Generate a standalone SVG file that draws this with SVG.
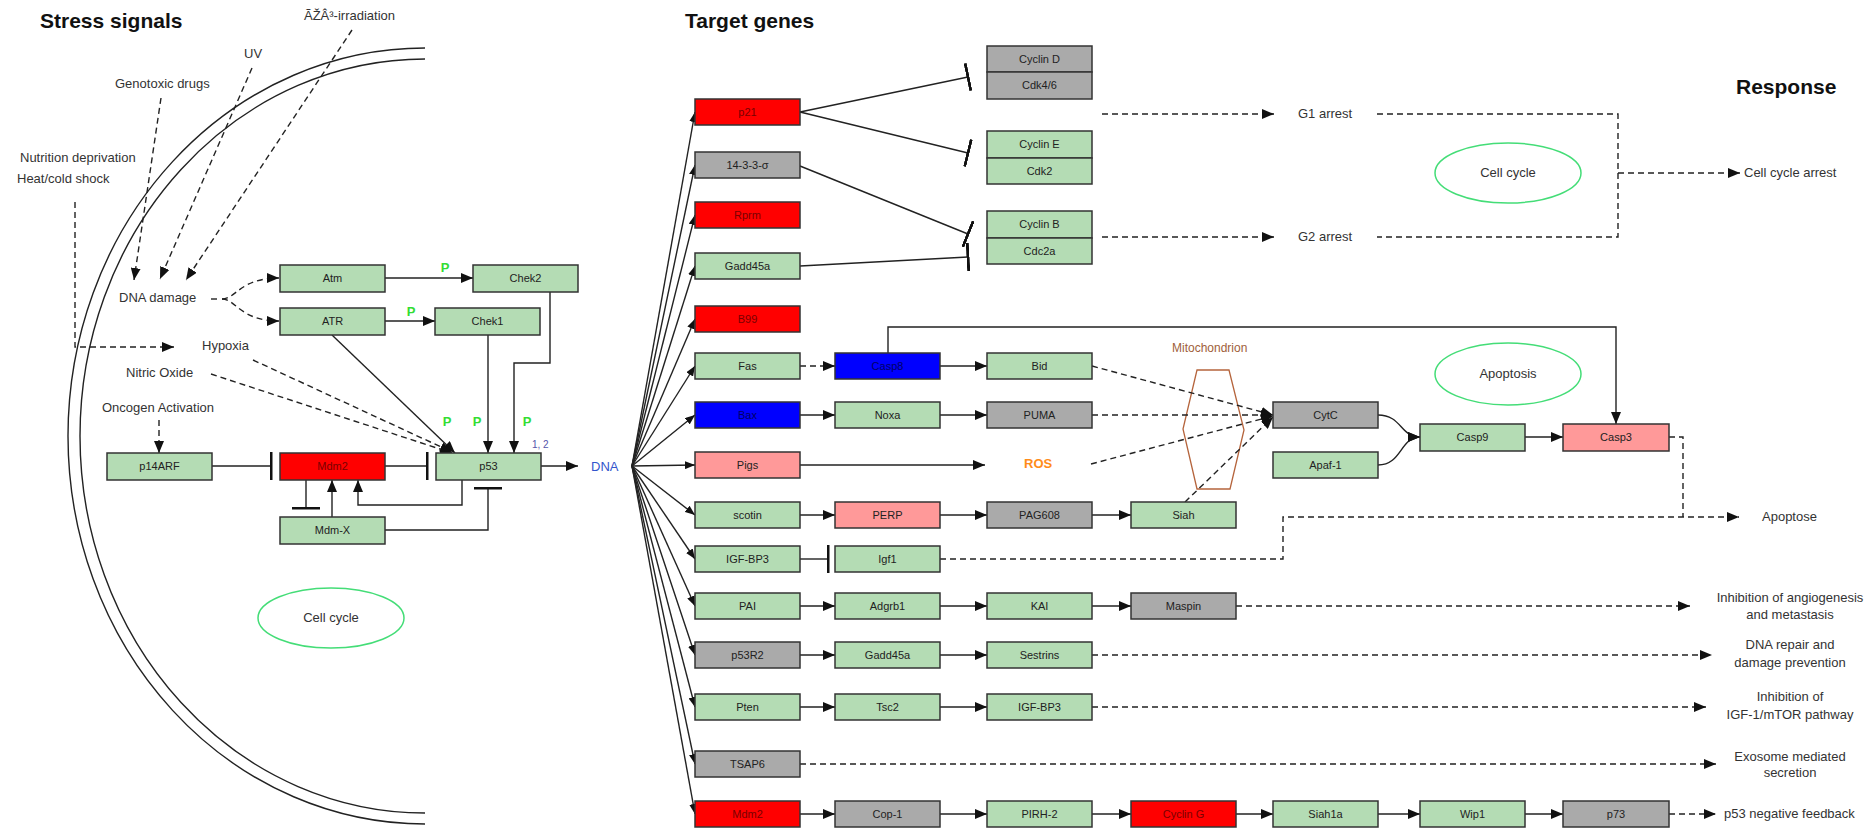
<svg xmlns="http://www.w3.org/2000/svg" width="1872" height="836" viewBox="0 0 1872 836">
<style>
text{font-family:"Liberation Sans",Arial,sans-serif}
.box{stroke:#333;stroke-width:1.5}
.g{fill:#b4dcb4}.r{fill:#ff0000}.gr{fill:#aaaaaa}.pk{fill:#ff9999}.bl{fill:#0000ff}
.bt{font-size:11px;text-anchor:middle;fill:#222}
.br{fill:#7a0000}.bb{fill:#000066}
.t{font-size:13px;fill:#333}
.tc{font-size:13px;fill:#333;text-anchor:middle}
.h{font-size:21px;font-weight:bold;fill:#111}
.p{font-size:13px;font-weight:bold;fill:#33dd33;text-anchor:middle}
.ell{fill:none;stroke:#44dd77;stroke-width:1.5}
.ln{fill:none;stroke:#222;stroke-width:1.4}
.d{stroke-dasharray:6 4}
.mem{fill:none;stroke:#222;stroke-width:1.4}
</style>
<defs>
<marker id="a" viewBox="0 0 12 10" refX="12" refY="5" markerWidth="12" markerHeight="10" orient="auto" markerUnits="userSpaceOnUse"><path d="M0,0L12,5L0,10z" fill="#111"/></marker>
<marker id="as" viewBox="0 0 10 8" refX="10" refY="4" markerWidth="10" markerHeight="8" orient="auto" markerUnits="userSpaceOnUse"><path d="M0,0L10,4L0,8z" fill="#111"/></marker>
<marker id="t" viewBox="0 0 3 28" refX="1.5" refY="14" markerWidth="3" markerHeight="28" orient="auto" markerUnits="userSpaceOnUse"><rect width="3" height="28" fill="#111"/></marker>
</defs>
<rect width="1872" height="836" fill="#fff"/>

<g id="membrane">
<path class="mem" d="M425,48 A357,388 0 0 0 425,824"/>
<path class="mem" d="M425,59 A345,377 0 0 0 425,813"/>
</g>

<g id="titles">
<text class="h" x="40" y="28">Stress signals</text>
<text class="h" x="685" y="28">Target genes</text>
<text class="h" x="1736" y="94">Response</text>
</g>

<g id="labels">
<text class="t" x="304" y="20">ÃŽÂ³-irradiation</text>
<text class="t" x="244" y="58">UV</text>
<text class="t" x="115" y="88">Genotoxic drugs</text>
<text class="t" x="20" y="162">Nutrition deprivation</text>
<text class="t" x="17" y="183">Heat/cold shock</text>
<text class="t" x="119" y="302">DNA damage</text>
<text class="t" x="202" y="350">Hypoxia</text>
<text class="t" x="126" y="377">Nitric Oxide</text>
<text class="t" x="102" y="412">Oncogen Activation</text>
<text x="591" y="471" style="font-size:13px;fill:#3355cc">DNA</text>
<text x="532" y="448" style="font-size:10px;fill:#5555aa">1, 2</text>
<text class="p" x="445" y="272">P</text>
<text class="p" x="411" y="316">P</text>
<text class="p" x="447" y="426">P</text>
<text class="p" x="477" y="426">P</text>
<text class="p" x="527" y="426">P</text>
<text class="t" x="1298" y="118">G1 arrest</text>
<text class="t" x="1298" y="241">G2 arrest</text>
<text class="t" x="1744" y="177">Cell cycle arrest</text>
<text x="1172" y="352" style="font-size:12px;fill:#a0603a">Mitochondrion</text>
<text x="1024" y="468" style="font-size:13px;font-weight:bold;fill:#ff8c1a">ROS</text>
<text class="t" x="1762" y="521">Apoptose</text>
<text class="tc" x="1790" y="602">Inhibition of angiogenesis</text>
<text class="tc" x="1790" y="619">and metastasis</text>
<text class="tc" x="1790" y="649">DNA repair and</text>
<text class="tc" x="1790" y="667">damage prevention</text>
<text class="tc" x="1790" y="701">Inhibition of</text>
<text class="tc" x="1790" y="719">IGF-1/mTOR pathway</text>
<text class="tc" x="1790" y="761">Exosome mediated</text>
<text class="tc" x="1790" y="777">secretion</text>
<text class="t" x="1724" y="818">p53 negative feedback</text>
</g>

<g id="cellcycle1"><ellipse class="ell" cx="331" cy="618" rx="73" ry="30"/><text class="tc" x="331" y="622">Cell cycle</text></g>
<g id="cellcycle2"><ellipse class="ell" cx="1508" cy="173" rx="73" ry="30"/><text class="tc" x="1508" y="177">Cell cycle</text></g>
<g id="apoptosis"><ellipse class="ell" cx="1508" cy="374" rx="73" ry="31"/><text class="tc" x="1508" y="378">Apoptosis</text></g>
<g id="mitochondrion"><polygon points="1197,370 1229,370 1244,430 1230,489 1197,489 1183,429" fill="none" stroke="#b5643c" stroke-width="1.3"/></g>

<g id="connectors">
<!-- stress signals -->
<path class="ln d" d="M161,98 L134,280" marker-end="url(#a)"/>
<path class="ln d" d="M252,68 L160,279" marker-end="url(#a)"/>
<path class="ln d" d="M352,30 L186,280" marker-end="url(#a)"/>
<path class="ln d" d="M75,202 V347 H174" marker-end="url(#a)"/>
<path class="ln d" d="M211,299 H217"/>
<path class="ln d" d="M222,299 C236,299 240,278 279,278" marker-end="url(#a)"/>
<path class="ln d" d="M222,299 C236,299 240,321 279,321" marker-end="url(#a)"/>
<path class="ln" d="M385,278 H473" marker-end="url(#a)"/>
<path class="ln" d="M385,321 H435" marker-end="url(#a)"/>
<path class="ln" d="M332,335 L455,453" marker-end="url(#a)"/>
<path class="ln" d="M488,335 V453" marker-end="url(#a)"/>
<path class="ln" d="M550,292 V363 H514 V453" marker-end="url(#a)"/>
<path class="ln d" d="M253,360 L452,452" marker-end="url(#a)"/>
<path class="ln d" d="M211,374 L452,453" marker-end="url(#a)"/>
<path class="ln d" d="M159,420 V453" marker-end="url(#a)"/>
<path class="ln" d="M212,466 H271" marker-end="url(#t)"/>
<path class="ln" d="M385,466 H427" marker-end="url(#t)"/>
<path class="ln" d="M306,480 V508" marker-end="url(#t)"/>
<path class="ln" d="M332,517 V480" marker-end="url(#a)"/>
<path class="ln" d="M462,480 V505 H358 V480" marker-end="url(#a)"/>
<path class="ln" d="M385,530 H488 V488" marker-end="url(#t)"/>
<path class="ln" d="M541,466 H578" marker-end="url(#a)"/>
<!-- DNA fan -->
<path class="ln" d="M632,466 L695,112" marker-end="url(#as)"/>
<path class="ln" d="M632,466 L695,165" marker-end="url(#as)"/>
<path class="ln" d="M632,466 L695,215" marker-end="url(#as)"/>
<path class="ln" d="M632,466 L695,266" marker-end="url(#as)"/>
<path class="ln" d="M632,466 L695,319" marker-end="url(#as)"/>
<path class="ln" d="M632,466 L695,366" marker-end="url(#as)"/>
<path class="ln" d="M632,466 L695,415" marker-end="url(#as)"/>
<path class="ln" d="M632,466 L695,465" marker-end="url(#as)"/>
<path class="ln" d="M632,466 L695,515" marker-end="url(#as)"/>
<path class="ln" d="M632,466 L695,559" marker-end="url(#as)"/>
<path class="ln" d="M632,466 L695,606" marker-end="url(#as)"/>
<path class="ln" d="M632,466 L695,655" marker-end="url(#as)"/>
<path class="ln" d="M632,466 L695,707" marker-end="url(#as)"/>
<path class="ln" d="M632,466 L695,764" marker-end="url(#as)"/>
<path class="ln" d="M632,466 L695,814" marker-end="url(#as)"/>
<!-- cell cycle -->
<path class="ln" d="M800,112 L968,77" marker-end="url(#t)"/>
<path class="ln" d="M800,112 L968,153" marker-end="url(#t)"/>
<path class="ln" d="M800,166 L968,234" marker-end="url(#t)"/>
<path class="ln" d="M800,266 L968,257" marker-end="url(#t)"/>
<path class="ln d" d="M1102,114 H1274" marker-end="url(#a)"/>
<path class="ln d" d="M1102,237 H1274" marker-end="url(#a)"/>
<path class="ln d" d="M1377,114 H1618 V237 H1377"/>
<path class="ln d" d="M1618,173 H1740" marker-end="url(#a)"/>
<!-- apoptosis -->
<path class="ln d" d="M800,366 H835" marker-end="url(#a)"/>
<path class="ln" d="M940,366 H987" marker-end="url(#a)"/>
<path class="ln" d="M888,353 V327 H1616 V424" marker-end="url(#a)"/>
<path class="ln" d="M800,415 H835" marker-end="url(#a)"/>
<path class="ln" d="M940,415 H987" marker-end="url(#a)"/>
<path class="ln" d="M800,465 H985" marker-end="url(#a)"/>
<path class="ln" d="M800,515 H835" marker-end="url(#a)"/>
<path class="ln" d="M940,515 H987" marker-end="url(#a)"/>
<path class="ln" d="M1092,515 H1131" marker-end="url(#a)"/>
<path class="ln" d="M800,559 H828" marker-end="url(#t)"/>
<path class="ln d" d="M1092,366 L1273,415" marker-end="url(#a)"/>
<path class="ln d" d="M1092,415 H1273" marker-end="url(#a)"/>
<path class="ln d" d="M1091,464 L1273,416" marker-end="url(#a)"/>
<path class="ln d" d="M1185,502 L1273,417" marker-end="url(#a)"/>
<path class="ln" d="M1378,415 C1402,415 1400,437 1420,437" marker-end="url(#a)"/>
<path class="ln" d="M1378,465 C1402,465 1400,437 1420,437" marker-end="url(#a)"/>
<path class="ln" d="M1525,437 H1563" marker-end="url(#a)"/>
<path class="ln d" d="M1669,437 H1683 V517"/>
<path class="ln d" d="M940,559 H1283 V517 H1739" marker-end="url(#a)"/>
<!-- other rows -->
<path class="ln" d="M800,606 H835" marker-end="url(#a)"/>
<path class="ln" d="M940,606 H987" marker-end="url(#a)"/>
<path class="ln" d="M1092,606 H1131" marker-end="url(#a)"/>
<path class="ln d" d="M1236,606 H1690" marker-end="url(#a)"/>
<path class="ln" d="M800,655 H835" marker-end="url(#a)"/>
<path class="ln" d="M940,655 H987" marker-end="url(#a)"/>
<path class="ln d" d="M1092,655 H1712" marker-end="url(#a)"/>
<path class="ln" d="M800,707 H835" marker-end="url(#a)"/>
<path class="ln" d="M940,707 H987" marker-end="url(#a)"/>
<path class="ln d" d="M1092,707 H1706" marker-end="url(#a)"/>
<path class="ln d" d="M800,764 H1716" marker-end="url(#a)"/>
<path class="ln" d="M800,814 H835" marker-end="url(#a)"/>
<path class="ln" d="M940,814 H987" marker-end="url(#a)"/>
<path class="ln" d="M1092,814 H1131" marker-end="url(#a)"/>
<path class="ln" d="M1236,814 H1273" marker-end="url(#a)"/>
<path class="ln" d="M1378,814 H1420" marker-end="url(#a)"/>
<path class="ln" d="M1525,814 H1563" marker-end="url(#a)"/>
<path class="ln d" d="M1669,814 H1716" marker-end="url(#a)"/>
</g>

<!-- left nodes -->
<g id="Atm"><rect class="box g" x="280" y="265" width="105" height="27"/><text class="bt" x="332.5" y="282">Atm</text></g>
<g id="Chek2"><rect class="box g" x="473" y="265" width="105" height="27"/><text class="bt" x="525.5" y="282">Chek2</text></g>
<g id="ATR"><rect class="box g" x="280" y="308" width="105" height="27"/><text class="bt" x="332.5" y="325">ATR</text></g>
<g id="Chek1"><rect class="box g" x="435" y="308" width="105" height="27"/><text class="bt" x="487.5" y="325">Chek1</text></g>
<g id="p14ARF"><rect class="box g" x="107" y="453" width="105" height="27"/><text class="bt" x="159.5" y="470">p14ARF</text></g>
<g id="Mdm2-left"><rect class="box r" x="280" y="453" width="105" height="27"/><text class="bt br" x="332.5" y="470">Mdm2</text></g>
<g id="p53"><rect class="box g" x="436" y="453" width="105" height="27"/><text class="bt" x="488.5" y="470">p53</text></g>
<g id="Mdm-X"><rect class="box g" x="280" y="517" width="105" height="27"/><text class="bt" x="332.5" y="534">Mdm-X</text></g>

<!-- target genes col1 -->
<g id="p21"><rect class="box r" x="695" y="99" width="105" height="26"/><text class="bt br" x="747.5" y="116">p21</text></g>
<g id="sigma"><rect class="box gr" x="695" y="152" width="105" height="26"/><text class="bt" x="747.5" y="169">14-3-3-σ</text></g>
<g id="Rprm"><rect class="box r" x="695" y="202" width="105" height="26"/><text class="bt br" x="747.5" y="219">Rprm</text></g>
<g id="Gadd45a-1"><rect class="box g" x="695" y="253" width="105" height="26"/><text class="bt" x="747.5" y="270">Gadd45a</text></g>
<g id="B99"><rect class="box r" x="695" y="306" width="105" height="26"/><text class="bt br" x="747.5" y="323">B99</text></g>
<g id="Fas"><rect class="box g" x="695" y="353" width="105" height="26"/><text class="bt" x="747.5" y="370">Fas</text></g>
<g id="Bax"><rect class="box bl" x="695" y="402" width="105" height="26"/><text class="bt bb" x="747.5" y="419">Bax</text></g>
<g id="Pigs"><rect class="box pk" x="695" y="452" width="105" height="26"/><text class="bt" x="747.5" y="469">Pigs</text></g>
<g id="scotin"><rect class="box g" x="695" y="502" width="105" height="26"/><text class="bt" x="747.5" y="519">scotin</text></g>
<g id="IGF-BP3-1"><rect class="box g" x="695" y="546" width="105" height="26"/><text class="bt" x="747.5" y="563">IGF-BP3</text></g>
<g id="PAI"><rect class="box g" x="695" y="593" width="105" height="26"/><text class="bt" x="747.5" y="610">PAI</text></g>
<g id="p53R2"><rect class="box gr" x="695" y="642" width="105" height="26"/><text class="bt" x="747.5" y="659">p53R2</text></g>
<g id="Pten"><rect class="box g" x="695" y="694" width="105" height="26"/><text class="bt" x="747.5" y="711">Pten</text></g>
<g id="TSAP6"><rect class="box gr" x="695" y="751" width="105" height="26"/><text class="bt" x="747.5" y="768">TSAP6</text></g>
<g id="Mdm2-right"><rect class="box r" x="695" y="801" width="105" height="26"/><text class="bt br" x="747.5" y="818">Mdm2</text></g>

<!-- cyclin complexes -->
<g id="CyclinD-Cdk46"><rect class="box gr" x="987" y="46" width="105" height="26"/><rect class="box gr" x="987" y="72" width="105" height="27"/><text class="bt" x="1039.5" y="63">Cyclin D</text><text class="bt" x="1039.5" y="89">Cdk4/6</text></g>
<g id="CyclinE-Cdk2"><rect class="box g" x="987" y="131" width="105" height="27"/><rect class="box g" x="987" y="158" width="105" height="26"/><text class="bt" x="1039.5" y="148">Cyclin E</text><text class="bt" x="1039.5" y="175">Cdk2</text></g>
<g id="CyclinB-Cdc2a"><rect class="box g" x="987" y="211" width="105" height="27"/><rect class="box g" x="987" y="238" width="105" height="26"/><text class="bt" x="1039.5" y="228">Cyclin B</text><text class="bt" x="1039.5" y="255">Cdc2a</text></g>

<!-- col2 -->
<g id="Casp8"><rect class="box bl" x="835" y="353" width="105" height="26"/><text class="bt bb" x="887.5" y="370">Casp8</text></g>
<g id="Noxa"><rect class="box g" x="835" y="402" width="105" height="26"/><text class="bt" x="887.5" y="419">Noxa</text></g>
<g id="PERP"><rect class="box pk" x="835" y="502" width="105" height="26"/><text class="bt" x="887.5" y="519">PERP</text></g>
<g id="Igf1"><rect class="box g" x="835" y="546" width="105" height="26"/><text class="bt" x="887.5" y="563">Igf1</text></g>
<g id="Adgrb1"><rect class="box g" x="835" y="593" width="105" height="26"/><text class="bt" x="887.5" y="610">Adgrb1</text></g>
<g id="Gadd45a-2"><rect class="box g" x="835" y="642" width="105" height="26"/><text class="bt" x="887.5" y="659">Gadd45a</text></g>
<g id="Tsc2"><rect class="box g" x="835" y="694" width="105" height="26"/><text class="bt" x="887.5" y="711">Tsc2</text></g>
<g id="Cop-1"><rect class="box gr" x="835" y="801" width="105" height="26"/><text class="bt" x="887.5" y="818">Cop-1</text></g>

<!-- col3 -->
<g id="Bid"><rect class="box g" x="987" y="353" width="105" height="26"/><text class="bt" x="1039.5" y="370">Bid</text></g>
<g id="PUMA"><rect class="box gr" x="987" y="402" width="105" height="26"/><text class="bt" x="1039.5" y="419">PUMA</text></g>
<g id="PAG608"><rect class="box gr" x="987" y="502" width="105" height="26"/><text class="bt" x="1039.5" y="519">PAG608</text></g>
<g id="KAI"><rect class="box g" x="987" y="593" width="105" height="26"/><text class="bt" x="1039.5" y="610">KAI</text></g>
<g id="Sestrins"><rect class="box g" x="987" y="642" width="105" height="26"/><text class="bt" x="1039.5" y="659">Sestrins</text></g>
<g id="IGF-BP3-2"><rect class="box g" x="987" y="694" width="105" height="26"/><text class="bt" x="1039.5" y="711">IGF-BP3</text></g>
<g id="PIRH-2"><rect class="box g" x="987" y="801" width="105" height="26"/><text class="bt" x="1039.5" y="818">PIRH-2</text></g>

<!-- col4 -->
<g id="Siah"><rect class="box g" x="1131" y="502" width="105" height="26"/><text class="bt" x="1183.5" y="519">Siah</text></g>
<g id="Maspin"><rect class="box gr" x="1131" y="593" width="105" height="26"/><text class="bt" x="1183.5" y="610">Maspin</text></g>
<g id="CyclinG"><rect class="box r" x="1131" y="801" width="105" height="26"/><text class="bt br" x="1183.5" y="818">Cyclin G</text></g>

<!-- col5-7 -->
<g id="CytC"><rect class="box gr" x="1273" y="402" width="105" height="26"/><text class="bt" x="1325.5" y="419">CytC</text></g>
<g id="Apaf-1"><rect class="box g" x="1273" y="452" width="105" height="26"/><text class="bt" x="1325.5" y="469">Apaf-1</text></g>
<g id="Siah1a"><rect class="box g" x="1273" y="801" width="105" height="26"/><text class="bt" x="1325.5" y="818">Siah1a</text></g>
<g id="Casp9"><rect class="box g" x="1420" y="424" width="105" height="27"/><text class="bt" x="1472.5" y="441">Casp9</text></g>
<g id="Wip1"><rect class="box g" x="1420" y="801" width="105" height="26"/><text class="bt" x="1472.5" y="818">Wip1</text></g>
<g id="Casp3"><rect class="box pk" x="1563" y="424" width="106" height="27"/><text class="bt" x="1616" y="441">Casp3</text></g>
<g id="p73"><rect class="box gr" x="1563" y="801" width="106" height="26"/><text class="bt" x="1616" y="818">p73</text></g>
</svg>
